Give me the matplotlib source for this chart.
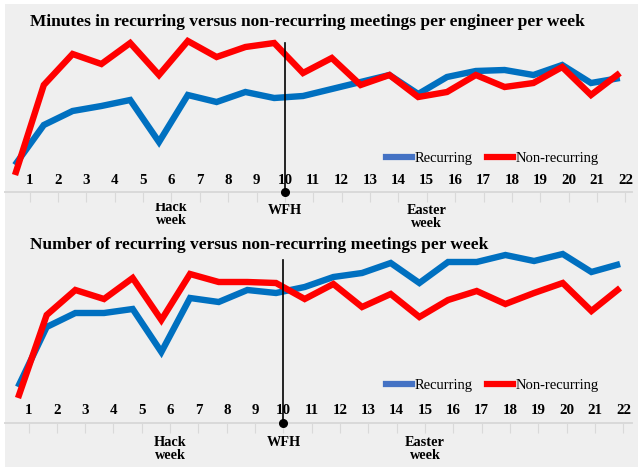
import matplotlib
matplotlib.use("Agg")
import matplotlib.pyplot as plt
from matplotlib.lines import Line2D
from matplotlib.patches import Rectangle
from matplotlib.transforms import Bbox, TransformedBbox

# ---------------- data ----------------
weeks = list(range(1, 23))
week_labels = [str(w) for w in weeks]

minutes_recurring = [27, 67, 81, 86, 92, 50, 97, 90, 100, 94, 96, 103, 110, 117,
                     98, 115, 121, 122, 117, 127, 109, 114]
minutes_nonrecurring = [17, 107, 138, 128, 149, 117, 151, 135, 145, 149, 119, 134,
                        107, 117, 95, 100, 117, 105, 109, 125, 97, 119]

count_recurring = [3.6, 9.6, 11.0, 11.0, 11.4, 7.1, 12.5, 12.1, 13.3, 13.0, 13.6,
                   14.6, 15.0, 16.0, 14.0, 16.1, 16.1, 16.8, 16.2, 16.9, 15.1, 15.9]
count_nonrecurring = [2.5, 10.8, 13.3, 12.4, 14.5, 10.3, 14.9, 14.1, 14.1, 14.0,
                      12.4, 13.9, 11.6, 12.9, 10.6, 12.3, 13.2, 11.9, 13.0, 14.0,
                      11.2, 13.5]

events = {6: "Hack\nweek", 10: "WFH", 15: "Easter\nweek"}
wfh_week = 10

titles = ["Minutes in recurring versus non-recurring meetings per engineer per week",
          "Number of recurring versus non-recurring meetings per week"]
series_names = ["Recurring", "Non-recurring"]

# ---------------- style ----------------
W, H = 638, 467
BG = "#efefef"
BLUE = "#0070C0"
BLUE_LEG = "#4472C4"
RED = "#FF0000"
GRID = "#d9d9d9"
SERIF = ["Liberation Serif", "DejaVu Serif"]

plt.rcParams["font.family"] = SERIF

fig = plt.figure(figsize=(W / 100, H / 100), dpi=100, facecolor=BG)
# thin white margins top/left
fig.patches.append(Rectangle((0, 0), 5 / W, 1, transform=fig.transFigure,
                             facecolor="white", edgecolor="none", zorder=-5))
fig.patches.append(Rectangle((0, 1 - 4 / H), 1, 4 / H, transform=fig.transFigure,
                             facecolor="white", edgecolor="none", zorder=-5))

panels = [
    dict(rec=minutes_recurring, non=minutes_nonrecurring, axis_px=192, top_px=30,
         scale=1.0, x0=15, dx=28.8, lab0=29.5, ldx=28.38, title_y=22,
         vline_top_px=43, legend_y=158, lab_off=11,
         ev_off={6: 22, 10: 19, 15: 25}, clip_hack=203),
    dict(rec=count_recurring, non=count_nonrecurring, axis_px=423, top_px=255,
         scale=0.1, x0=18, dx=28.67, lab0=28.5, ldx=28.33, title_y=245,
         vline_top_px=260, legend_y=385, lab_off=13,
         ev_off={6: 26, 10: 20, 15: 26}, clip_hack=None),
]

for i, p in enumerate(panels):
    left_px, right_px = 5, 632
    ax = fig.add_axes([left_px / W, (H - p["axis_px"]) / H,
                       (right_px - left_px) / W, (p["axis_px"] - p["top_px"]) / H])
    ax.set_facecolor("none")
    # pixel -> data x
    px2x = lambda px, p=p: 1 + (px - p["x0"]) / p["dx"]
    ax.set_xlim(px2x(left_px), px2x(right_px))
    ax.set_ylim(0, (p["axis_px"] - p["top_px"]) * p["scale"])

    ax.plot(weeks, p["rec"], color=BLUE, lw=4.6, solid_joinstyle="miter",
            solid_capstyle="butt", zorder=3, clip_on=False)
    ax.plot(weeks, p["non"], color=RED, lw=4.6, solid_joinstyle="miter",
            solid_capstyle="butt", zorder=4, clip_on=False)

    for s in ["top", "right", "left"]:
        ax.spines[s].set_visible(False)
    ax.spines["bottom"].set_color(GRID)
    ax.spines["bottom"].set_linewidth(1.4)
    ax.set_yticks([])

    label_x = [px2x(p["lab0"] + k * p["ldx"]) for k in range(len(weeks))]
    ax.set_xticks(label_x)
    ax.set_xticklabels([])
    ax.tick_params(axis="x", direction="out", length=7, width=0.8, color=GRID)

    for lx, lab in zip(label_x, week_labels):
        ax.annotate(lab, xy=(lx, 0), xycoords=("data", "axes fraction"),
                    xytext=(0, p["lab_off"] * 0.72), textcoords="offset points",
                    ha="center", va="center", fontsize=10.8, fontweight="bold")

    for wk, txt in events.items():
        ann = ax.annotate(txt, xy=(label_x[wk - 1], 0),
                          xycoords=("data", "axes fraction"),
                          xytext=(0, -p["ev_off"][wk] * 0.72),
                          textcoords="offset points",
                          ha="center", va="center", fontsize=10.3,
                          fontweight="bold", linespacing=0.95,
                          annotation_clip=False)
        if wk == 6 and p["clip_hack"] is not None:
            cb = TransformedBbox(Bbox([[0, 0], [1, (H - p["clip_hack"]) / H]]),
                                 fig.transFigure)
            ann.set_clip_box(cb)
            ann.set_clip_on(True)

    # WFH marker line
    vx = label_x[wfh_week - 1]
    vtop = (p["axis_px"] - p["vline_top_px"]) * p["scale"]
    ax.plot([vx, vx], [0, vtop], color="black", lw=1.2, zorder=5, clip_on=False)
    ax.plot([vx], [0], marker="o", ms=5.5, color="black", zorder=6, clip_on=False)

    fig.text(30 / W, 1 - p["title_y"] / H, titles[i], ha="left", va="center",
             fontsize=12.5, fontweight="bold")

    handles = [Line2D([], [], color=BLUE_LEG, lw=4.5),
               Line2D([], [], color=RED, lw=4.5)]
    ax.legend(handles, series_names, loc="center left", ncol=2, frameon=False,
              bbox_to_anchor=(386 / W, 1 - p["legend_y"] / H),
              bbox_transform=fig.transFigure, fontsize=10.5, handlelength=1.75,
              handletextpad=0.2, columnspacing=1.0, borderpad=0, borderaxespad=0)

fig.savefig("out.png", dpi=100, facecolor=BG)
